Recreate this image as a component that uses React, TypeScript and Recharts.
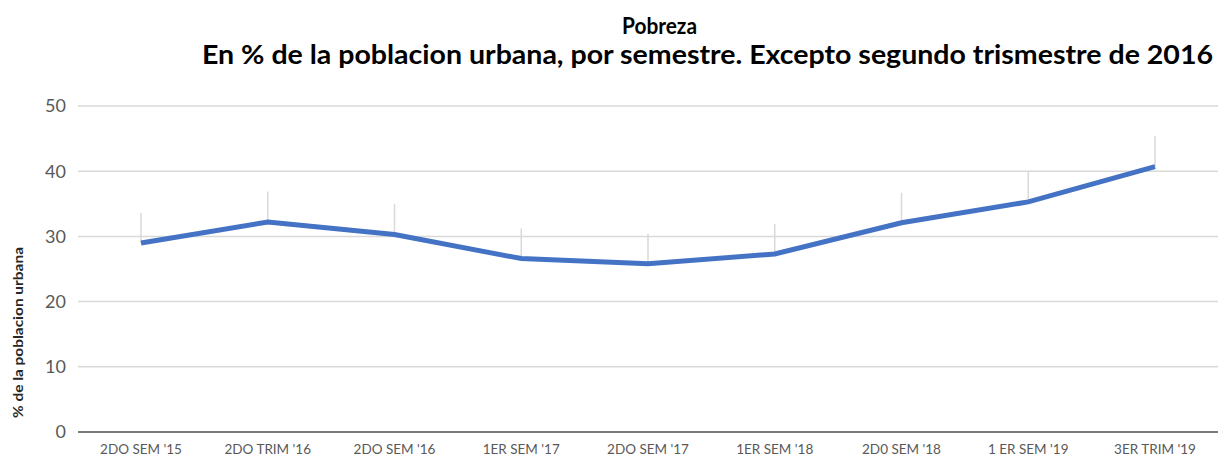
import { LineChart, Line, XAxis, YAxis, CartesianGrid, ErrorBar } from 'recharts';

const categories = ["2DO SEM '15", "2DO TRIM '16", "2DO SEM '16", "1ER SEM '17", "2DO SEM '17", "1ER SEM '18", "2D0 SEM '18", "1 ER SEM '19", "3ER TRIM '19"];
const pobreza = [29.0, 32.2, 30.3, 26.6, 25.8, 27.3, 32.1, 35.3, 40.7];
const errorUp = [4.6, 4.7, 4.7, 4.6, 4.6, 4.6, 4.6, 4.7, 4.7];
const yTicks = [0, 10, 20, 30, 40, 50];

const data = categories.map((name, i) => ({
  name,
  value: pobreza[i],
  err: [0, errorUp[i]],
}));

const FONT = 'Lato, "Open Sans", sans-serif';

export default function App() {
  return (
    <div style={{ position: 'absolute', left: 0, top: 0, width: 1218, height: 457, background: '#fff', fontFamily: FONT }}>
      <LineChart width={1218} height={457} data={data} margin={{ top: 106, right: 0, bottom: 0, left: 0 }}>
        <CartesianGrid vertical={false} stroke="#d9d9d9" strokeWidth={1.5} />
        <XAxis
          dataKey="name"
          height={25}
          padding={{ left: 63, right: 63 }}
          tickLine={false}
          tickSize={0}
          tickMargin={12}
          axisLine={{ stroke: '#595959', strokeWidth: 1.5 }}
          tick={{ fontSize: 13.5, fill: '#595959', fontFamily: FONT }}
          interval={0}
        />
        <YAxis
          width={78}
          domain={[0, 50]}
          ticks={yTicks}
          tickLine={false}
          axisLine={false}
          tickSize={0}
          tickMargin={12}
          tick={{ fontSize: 18, fill: '#595959', fontFamily: FONT }}
        />
        <Line
          dataKey="value"
          stroke="#4472C4"
          strokeWidth={5}
          dot={false}
          isAnimationActive={false}
        >
          <ErrorBar dataKey="err" direction="y" width={0} stroke="#d9d9d9" strokeWidth={1.5} isAnimationActive={false} />
        </Line>
      </LineChart>
      <svg width={1218} height={457} style={{ position: 'absolute', left: 0, top: 0, pointerEvents: 'none' }}>
        <text x={622} y={34} textLength={75} lengthAdjust="spacingAndGlyphs" fontSize={23} fontWeight="bold" fill="#000" fontFamily={FONT}>Pobreza</text>
        <text x={202} y={64} textLength={1011} lengthAdjust="spacingAndGlyphs" fontSize={27} fontWeight="bold" fill="#000" fontFamily={FONT}>
          En % de la poblacion urbana, por semestre. Excepto segundo trismestre de 2016
        </text>
        <text x={23} y={418} transform="rotate(-90 23 418)" textLength={171} lengthAdjust="spacingAndGlyphs" fontSize={14} fontWeight="bold" fill="#262626" fontFamily={FONT}>
          % de la poblacion urbana
        </text>
      </svg>
    </div>
  );
}
